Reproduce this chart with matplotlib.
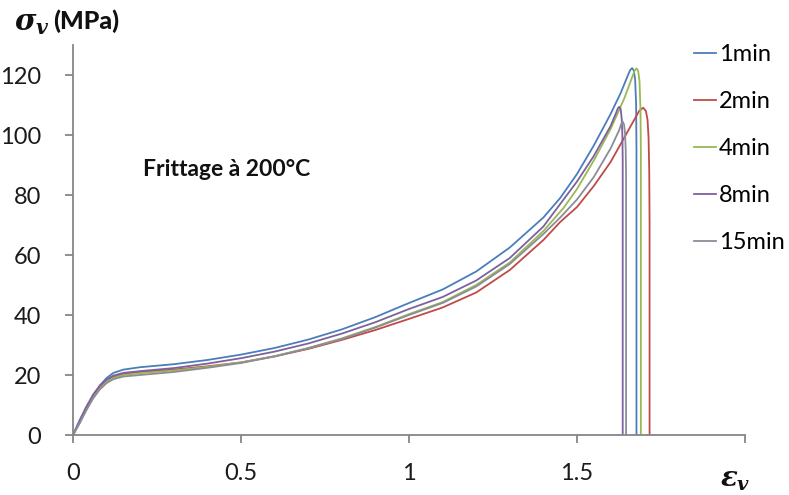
import matplotlib
matplotlib.use("Agg")
import matplotlib.pyplot as plt

plt.rcParams['font.family'] = ['Lato', 'DejaVu Sans']
plt.rcParams['mathtext.fontset'] = 'custom'
plt.rcParams['mathtext.it'] = 'DejaVu Serif:italic:bold'
plt.rcParams['mathtext.rm'] = 'DejaVu Serif:bold'

# Stress-strain curves (strain, stress in MPa) for each sintering time
labels = ['1min', '2min', '4min', '8min', '15min']
colors = ['#4a7ebb', '#be4b48', '#98b954', '#7d60a0', '#8c8c99']

strain_1 = [0, 0.02, 0.04, 0.06, 0.08, 0.10, 0.12, 0.15, 0.20, 0.30, 0.40, 0.50,
            0.60, 0.70, 0.80, 0.90, 1.00, 1.10, 1.20, 1.30, 1.40, 1.45, 1.50,
            1.55, 1.60, 1.63, 1.65, 1.658, 1.664, 1.669, 1.673, 1.676, 1.677, 1.677]
stress_1 = [0, 4.5, 9, 13, 16.5, 19, 20.7, 21.8, 22.6, 23.6, 25, 26.8,
            29, 31.8, 35.2, 39.3, 44, 48.5, 54.5, 62.5, 72.5, 79, 87,
            96.5, 107, 114, 119.5, 121.6, 122.3, 121.5, 118.5, 110, 95, 0]

strain_2 = [0, 0.02, 0.04, 0.06, 0.08, 0.10, 0.12, 0.15, 0.20, 0.30, 0.40, 0.50,
            0.60, 0.70, 0.80, 0.90, 1.00, 1.10, 1.20, 1.30, 1.40, 1.45, 1.50,
            1.55, 1.60, 1.64, 1.67, 1.685, 1.697, 1.705, 1.710, 1.713, 1.715, 1.716, 1.716]
stress_2 = [0, 4.2, 8.8, 12.8, 15.8, 18, 19.3, 20.3, 21, 21.8, 22.9, 24.2,
            26.2, 28.7, 31.7, 35, 38.7, 42.5, 47.5, 55, 65, 71, 76,
            83, 91, 99, 105, 108, 109.1, 108, 105, 99, 88, 70, 0]

strain_4 = [0, 0.02, 0.04, 0.06, 0.08, 0.10, 0.12, 0.15, 0.20, 0.30, 0.40, 0.50,
            0.60, 0.70, 0.80, 0.90, 1.00, 1.10, 1.20, 1.30, 1.40, 1.46, 1.50,
            1.55, 1.60, 1.64, 1.66, 1.671, 1.677, 1.682, 1.686, 1.689, 1.690, 1.690]
stress_4 = [0, 4, 8.5, 12.5, 15.5, 17.8, 19, 20, 20.6, 21.5, 22.7, 24.2,
            26.3, 29, 32.2, 36, 40.3, 44.3, 50, 57.5, 68, 75.7, 82,
            91.5, 102, 112, 118, 121.3, 122.2, 121.4, 118, 108, 95, 0]

strain_8 = [0, 0.02, 0.04, 0.06, 0.08, 0.10, 0.12, 0.15, 0.20, 0.30, 0.40, 0.50,
            0.60, 0.70, 0.80, 0.90, 1.00, 1.10, 1.20, 1.30, 1.40, 1.45, 1.50,
            1.55, 1.60, 1.615, 1.622, 1.626, 1.630, 1.633, 1.635, 1.636, 1.636]
stress_8 = [0, 5, 9.5, 13.5, 16.5, 18.5, 19.8, 20.7, 21.3, 22.3, 23.8, 25.6,
            27.8, 30.5, 33.8, 37.6, 42, 46, 51.5, 59, 69.5, 77, 84.5,
            93, 103, 107, 109, 109.4, 108.6, 105.5, 100, 92, 0]

strain_15 = [0, 0.02, 0.04, 0.06, 0.08, 0.10, 0.12, 0.15, 0.20, 0.30, 0.40, 0.50,
             0.60, 0.70, 0.80, 0.90, 1.00, 1.10, 1.20, 1.30, 1.40, 1.45, 1.50,
             1.55, 1.60, 1.625, 1.632, 1.636, 1.640, 1.643, 1.645, 1.646, 1.646]
stress_15 = [0, 4, 8.3, 12.2, 15.2, 17.3, 18.6, 19.5, 20, 21, 22.4, 24,
             26.2, 28.9, 32, 35.8, 40, 44, 49.5, 57, 67, 72.5, 78.5,
             86, 95.5, 101.5, 103.8, 104.5, 103.5, 100.5, 95, 87, 0]

strains = [strain_1, strain_2, strain_4, strain_8, strain_15]
stresses = [stress_1, stress_2, stress_4, stress_8, stress_15]

x_ticks = [0, 0.5, 1, 1.5, 2]
x_tick_labels = ['0', '0.5', '1', '1.5', '']
y_ticks = [0, 20, 40, 60, 80, 100, 120]

fig = plt.figure(figsize=(7.89, 4.95), dpi=100)
ax = fig.add_axes([73 / 789, 60 / 495, 672 / 789, 390 / 495])

handles = []
for xs, ys, c, lab in zip(strains, stresses, colors, labels):
    h, = ax.plot(xs, ys, color=c, lw=1.3, label=lab, solid_joinstyle='round')
    handles.append(h)

ax.set_xlim(0, 2)
ax.set_ylim(0, 130)
ax.set_xticks(x_ticks)
ax.set_xticklabels(x_tick_labels)
ax.set_yticks(y_ticks)

axis_grey = '#868686'
for side in ('top', 'right'):
    ax.spines[side].set_visible(False)
for side in ('left', 'bottom'):
    ax.spines[side].set_color(axis_grey)
    ax.spines[side].set_linewidth(1.3)
ax.tick_params(axis='both', direction='out', length=6, width=1.3, color=axis_grey,
               labelsize=17, labelcolor='#1a1a1a')
ax.tick_params(axis='x', pad=14)
ax.tick_params(axis='y', pad=17)

ax.text(0.208, 88.5, 'Frittage à 200°C', fontsize=16.5, fontweight='bold', color='#111111',
        va='center', ha='left')

# axis titles: stress at top left, strain at bottom right
fig.text(14 / 789, 1 - 24 / 495, r'$\sigma_v$', fontsize=21,
         color='#111111', va='center', ha='left')
fig.text(53 / 789, 1 - 21 / 495, '(MPa)', fontsize=18,
         fontweight='black', color='#111111', va='center', ha='left')
fig.text(720 / 789, 1 - 480 / 495, r'$\varepsilon_v$', fontsize=20,
         color='#111111', va='center', ha='left')

fig.legend(handles=handles, labels=labels, loc='upper left',
           bbox_to_anchor=(694 / 789, 1 - 44 / 495), frameon=False,
           fontsize=17, handlelength=0.95, handletextpad=0.1, labelspacing=1.1,
           borderaxespad=0, borderpad=0)

fig.savefig('out.png', dpi=100, facecolor='white')
